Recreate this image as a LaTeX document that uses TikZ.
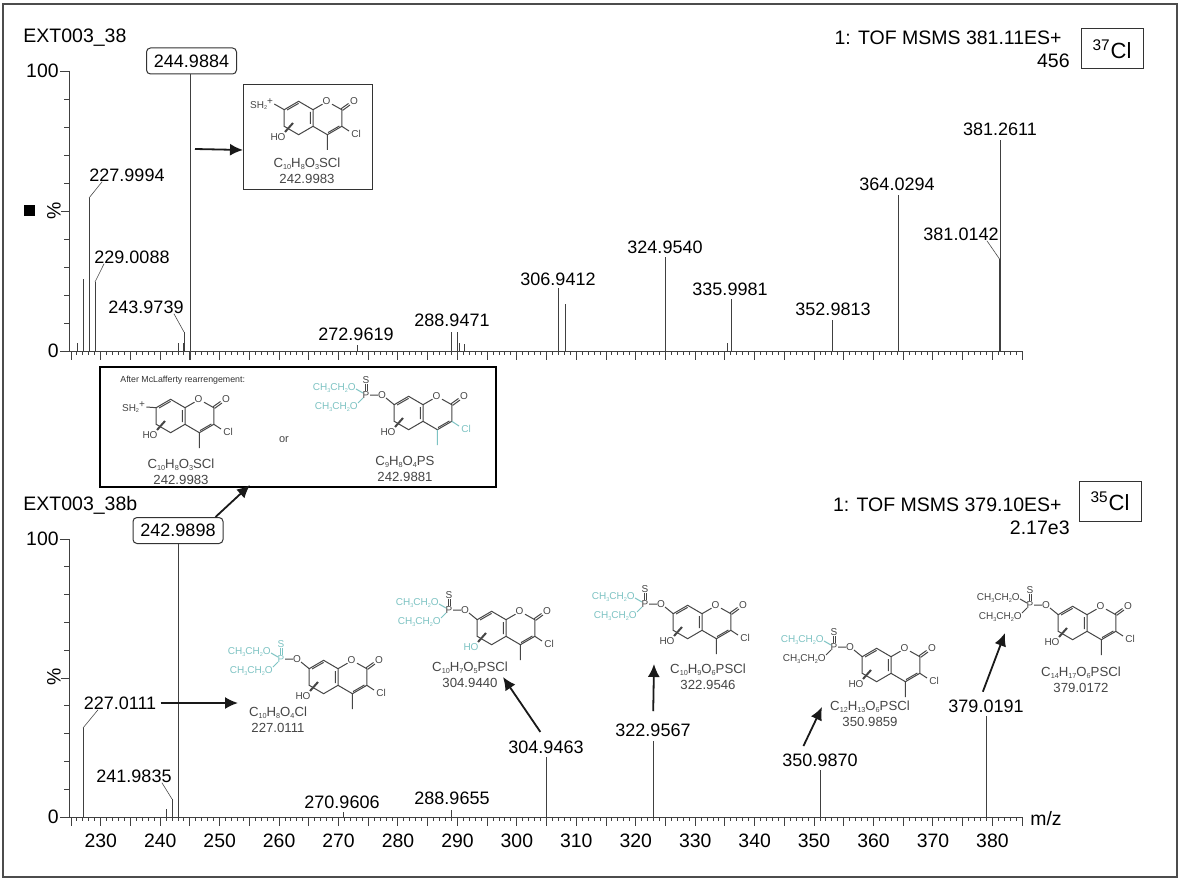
\documentclass[tikz,border=0pt]{standalone}
\usepackage{fontspec}
\setmainfont{Liberation Sans}
\usetikzlibrary{arrows.meta,positioning}

\definecolor{molcyan}{RGB}{125,195,195}
\definecolor{molgray}{RGB}{70,70,70}
\newcommand{\sbs}[1]{\raisebox{-0.22ex}{\scalebox{0.55}{#1}}}

% ring system, #1 name, #2 origin, #3 colour of Cl and methyl, #4 colour of HO
\newcommand{\coumarin}[4]{
  \begin{scope}[shift={(#2)}]
    \draw[bond] (-14.4,-16.7) -- (0,-8.3) -- (0,8.3) -- (-14.4,16.7) -- (-28.8,8.3)
                -- (-28.8,-8.3) -- cycle;
    \draw[bond] (0,-8.3) -- (9.5,-13.8) (19,-13.8) -- (28.8,-8.3) -- (28.8,8.3) -- (14.4,16.7) -- (0,8.3);
    \draw[bond] (-26,-8) -- (-14.4,-14.6) (-2.6,-6) -- (-2.6,6) (26.4,8) -- (15,14.6);
    \draw[bond] (28,-9.2) -- (35.5,-14.5) (29.6,-7.6) -- (37,-13);
    \draw[bond,#3] (14.4,16.7) -- (14.4,32) (28.8,8.3) -- (36,13);
    \draw[bond,line width=1pt] (-28,14) -- (-20,5);
    \node[molat] (#1o) at (13.5,-17) {O};
    \node[molat] (#1ox) at (41,-17) {O};
    \node[molat,#3] (#1cl) at (43,16) {Cl};
    \node[molat,#4] (#1ho) at (-35,19) {HO};
  \end{scope}}

% thiophosphate group, #1 name, #2 origin, #3 upper chain, #4 lower chain, #5 P and S
\newcommand{\phosgroup}[5]{
  \begin{scope}[shift={(#2)}]
    \draw[bond] (-37,-15) -- (-28.8,-8.3) (-53,-18) -- (-45,-18);
    \draw[bond,#5] (-58,-22) -- (-58,-29) (-56,-22) -- (-56,-29);
    \draw[bond,#3] (-60,-20) -- (-67,-24);
    \draw[bond,#4] (-60,-15) -- (-65,-10);
    \node[molat] (#1o) at (-41,-18) {O};
    \node[molat,#5] (#1p) at (-57,-18) {P};
    \node[molat,#5] (#1s) at (-57,-33) {S};
    \node[molat,#3,anchor=east] (#1up) at (-67,-25) {CH\sbs{3}CH\sbs{2}O};
    \node[molat,#4,anchor=east] (#1lo) at (-65,-6) {CH\sbs{3}CH\sbs{2}O};
  \end{scope}}

\begin{document}
\begin{tikzpicture}[x=0.5pt,y=-0.5pt,
    peak/.style={draw=black!75,line width=0.5pt},
    leader/.style={draw=black!70,line width=0.3pt},
    axisline/.style={draw=black!75,line width=0.45pt},
    vallab/.style={inner sep=0pt,font=\fontsize{9}{9}\selectfont},
    ticklab/.style={inner sep=0pt,font=\fontsize{9.7}{9.7}\selectfont},
    head/.style={inner sep=0pt,font=\fontsize{9.75}{9.75}\selectfont},
    valbox/.style={draw=black!80,line width=0.5pt,rounded corners=2pt,inner sep=0pt,
      minimum width=45pt,minimum height=13pt,font=\fontsize{9}{9}\selectfont},
    isobox/.style={draw=black!80,line width=0.5pt,inner sep=0pt,minimum width=31pt,
      minimum height=20pt,font=\fontsize{11}{11}\selectfont},
    bond/.style={draw=molgray,line width=0.5pt},
    molat/.style={inner sep=0pt,text=molgray,font=\fontsize{5}{5}\selectfont},
    formula/.style={inner sep=0pt,text=molgray,align=center,
      font=\fontsize{6.6}{8}\selectfont},
    bigarrow/.style={-{Latex[length=6.5pt,width=6pt]},draw=black!90,line width=0.9pt}]

  \useasboundingbox (0,0) rectangle (1182,882);
  \fill[white] (0,0) rectangle (1182,882);
  \draw[black!70,line width=1pt] (3,4) rectangle (1177,877);

  % axes
  \foreach \ay/\ty in {351/71,817/539} {
    \draw[axisline] (69,\ty) -- (69,\ay) -- (1022,\ay);
    \foreach \k in {0,...,160} {
      \pgfmathsetmacro{\tx}{71+\k*5.944}
      \draw[axisline] (\tx,\ay) -- (\tx,\ay+4);
    }
    \foreach \k in {0,5,...,160} {
      \pgfmathsetmacro{\tx}{71+\k*5.944}
      \draw[axisline] (\tx,\ay) -- (\tx,\ay+9);
    }
    \foreach \j in {1,...,9} {
      \pgfmathsetmacro{\vy}{\ty+\j*(\ay-\ty)/10}
      \draw[axisline] (64,\vy) -- (69,\vy);
    }
    \draw[axisline] (60,\ty) -- (69,\ty) (60,\ay) -- (69,\ay);
    \draw[axisline] (61,{(\ty+\ay)/2}) -- (69,{(\ty+\ay)/2});
  }
  \foreach \m in {230,240,...,380}
    \node[ticklab] (t\m) at ({100.8+(\m-230)*5.944},841) {\m};

  \node[ticklab,anchor=east] (y100a) at (59,71) {100};
  \node[ticklab,anchor=east] (y0a) at (59,351) {0};
  \node[ticklab,anchor=east] (y100b) at (59,539) {100};
  \node[ticklab,anchor=east] (y0b) at (59,817) {0};
  \node[ticklab,rotate=90] (pcta) at (54,211) {\%};
  \node[ticklab,rotate=90] (pctb) at (54,677) {\%};
  \node[fill=black,minimum size=5.5pt,inner sep=0pt] (mark) at (29,211) {};
  \node[ticklab] (mz) at (1046,819) {m/z};

  % titles
  \node[head,anchor=west] (tita) at (23,38) {EXT003\_38};
  \node[head,anchor=west] (titb) at (23,505) {EXT003\_38b};
  \node[head,anchor=east] (msa) at (1062,38) {1: TOF MSMS 381.11ES+};
  \node[head,anchor=east] (ina) at (1070,61) {456};
  \node[head,anchor=east] (msb) at (1062,505) {1: TOF MSMS 379.10ES+};
  \node[head,anchor=east] (inb) at (1070,528) {2.17e3};
  \node[isobox] (cla) at (1112,49) {\textsuperscript{37}Cl};
  \node[isobox] (clb) at (1110,501) {\textsuperscript{35}Cl};

  % peaks, upper spectrum
  \foreach \x/\t in {77/343,83/279,89/198,95/282,178/343,184/332,357/345,451/332,457/332,
      459/343,464/344,558/288,565/304,665/257,727/343,731/299,832/320,898/195,1000/140}
    \draw[peak] (\x,351) -- (\x,\t);
  \draw[peak,line width=0.9pt] (184,351) -- (184,343);
  \draw[peak,line width=0.9pt] (999.5,351) -- (999.5,259);

  % peaks, lower spectrum
  \foreach \x/\t in {83/728,166/809,172/799,343/812,451/810,546/757,653/741,820/770,986/716}
    \draw[peak] (\x,817) -- (\x,\t);

  % peak values
  \foreach \n/\x/\y/\s in {a/127/175/227.9994,b/132/257/229.0088,c/146/307/243.9739,
      d/356/334/272.9619,e/452/320/288.9471,f/558/279/306.9412,g/665/247/324.9540,
      h/730/289/335.9981,i/833/309/352.9813,j/897/184/364.0294,k/961/234/381.0142,
      l/1000/129/381.2611,m/120/703/227.0111,n/134/776/241.9835,o/342/802/270.9606,
      p/452/798/288.9655,q/546/747/304.9463,r/653/730/322.9567,s/820/760/350.9870,
      t/986/706/379.0191}
    \node[vallab] (lab\n) at (\x,\y) {\s};

  \node[valbox] (boxa) at (191.5,61) {244.9884};
  \node[valbox] (boxb) at (178,530.5) {242.9898};
  \coordinate (pka) at (190,360);
  \coordinate (pkb) at (178,817);
  \draw[peak] (pka) -- (pka |- boxa.south);
  \draw[peak] (pkb) -- (pkb |- boxb.south);

  % leader lines
  \coordinate (pk1) at (89,198);
  \coordinate (pk2) at (95,282);
  \coordinate (pk3) at (184,332);
  \coordinate (pk4) at (999.5,259);
  \coordinate (pk5) at (83,728);
  \coordinate (pk6) at (172,799);
  \draw[leader] (pk1) -- ([xshift=6.5pt]laba.south west);
  \draw[leader] (pk2) -- ([xshift=5pt]labb.south west);
  \draw[leader] (pk3) -- ([xshift=-5pt]labc.south east);
  \draw[leader] (pk4) -- ([xshift=-6pt]labk.south east);
  \draw[leader] (pk5) -- ([xshift=-11pt]labm.south);
  \draw[leader] (pk6) -- ([xshift=-5pt]labn.south east);

  % upper fragment box
  \node[draw=black!80,line width=0.5pt,minimum width=64.5pt,minimum height=52.5pt,inner sep=0pt]
    (fragbox) at (307.5,137.5) {};
  \coumarin{ma}{313,118}{molgray}{molgray}
  \node[molat] (masm) at (262,104) {SH\sbs{2}\textsuperscript{+}};
  \draw[bond] (masm.east) -- (284.2,109.7);
  \node[formula] (fa) at (307,171) {C\sbs{10}H\sbs{8}O\sbs{3}SCl\\242.9983};
  \coordinate (heada) at (243,150);
  \coordinate (taila) at (195,149);
  \draw[bigarrow] (taila) -- (heada);

  % McLafferty box
  \node[draw=black,line width=0.7pt,minimum width=198pt,minimum height=60pt,inner sep=0pt]
    (mcbox) at (298,427) {};
  \node[molat,text=black!80,anchor=west,font=\fontsize{4.4}{4.4}\selectfont] (mctext) at (120,380)
    {After McLafferty rearrengement:};
  \coumarin{mb}{185,416}{molgray}{molgray}
  \node[molat] (mbsm) at (134,407) {SH\sbs{2}\textsuperscript{+}};
  \draw[bond] (mbsm.east) -- (156.2,407.7);
  \node[formula] (fb) at (181,472) {C\sbs{10}H\sbs{8}O\sbs{3}SCl\\242.9983};
  \node[molat,font=\fontsize{5.5}{5.5}\selectfont] (mcor) at (284,440) {or};
  \coumarin{mc}{423,413}{molcyan}{molgray}
  \phosgroup{mc}{423,413}{molcyan}{molcyan}{molgray}
  \node[formula] (fc) at (405,469) {C\sbs{9}H\sbs{8}O\sbs{4}PS\\242.9881};

  % lower fragments
  \coumarin{md}{338,677}{molgray}{molgray}
  \phosgroup{md}{338,677}{molcyan}{molcyan}{molcyan}
  \node[formula] (fd) at (278,720) {C\sbs{10}H\sbs{8}O\sbs{4}Cl\\227.0111};

  \coumarin{me}{506,628}{molgray}{molcyan}
  \phosgroup{me}{506,628}{molcyan}{molcyan}{molgray}
  \node[formula] (fe) at (470,675) {C\sbs{10}H\sbs{7}O\sbs{5}PSCl\\304.9440};

  \coumarin{mf}{702,622}{molgray}{molgray}
  \phosgroup{mf}{702,622}{molcyan}{molcyan}{molgray}
  \node[formula] (ff) at (708,677) {C\sbs{10}H\sbs{9}O\sbs{6}PSCl\\322.9546};

  \coumarin{mg}{891,665}{molgray}{molgray}
  \phosgroup{mg}{891,665}{molcyan}{molgray}{molgray}
  \node[formula] (fg) at (870,714) {C\sbs{12}H\sbs{13}O\sbs{6}PSCl\\350.9859};

  \coumarin{mh}{1087,623}{molgray}{molgray}
  \phosgroup{mh}{1087,623}{molgray}{molgray}{molgray}
  \node[formula] (fh) at (1081,680) {C\sbs{14}H\sbs{17}O\sbs{6}PSCl\\379.0172};

  % arrows to the fragments
  \coordinate (headb) at (250,485);
  \coordinate (headm) at (238,703);
  \coordinate (headq) at (503,677);
  \coordinate (headr) at (654,664);
  \coordinate (heads) at (822,707);
  \coordinate (headt) at (1005,633);
  \draw[bigarrow] (boxb.north east) ++(-4pt,0) -- (headb);
  \draw[bigarrow,shorten <=2pt] (labm.east) -- (headm);
  \draw[bigarrow,shorten <=5pt] (labq.north) -- (headq);
  \draw[bigarrow,shorten <=6pt] (labr.north) -- (headr);
  \draw[bigarrow,shorten <=4pt] (labs.north) ++(-10pt,0) -- (heads);
  \draw[bigarrow,shorten <=4pt] (labt.north) ++(-3pt,0) -- (headt);
\end{tikzpicture}
\end{document}
